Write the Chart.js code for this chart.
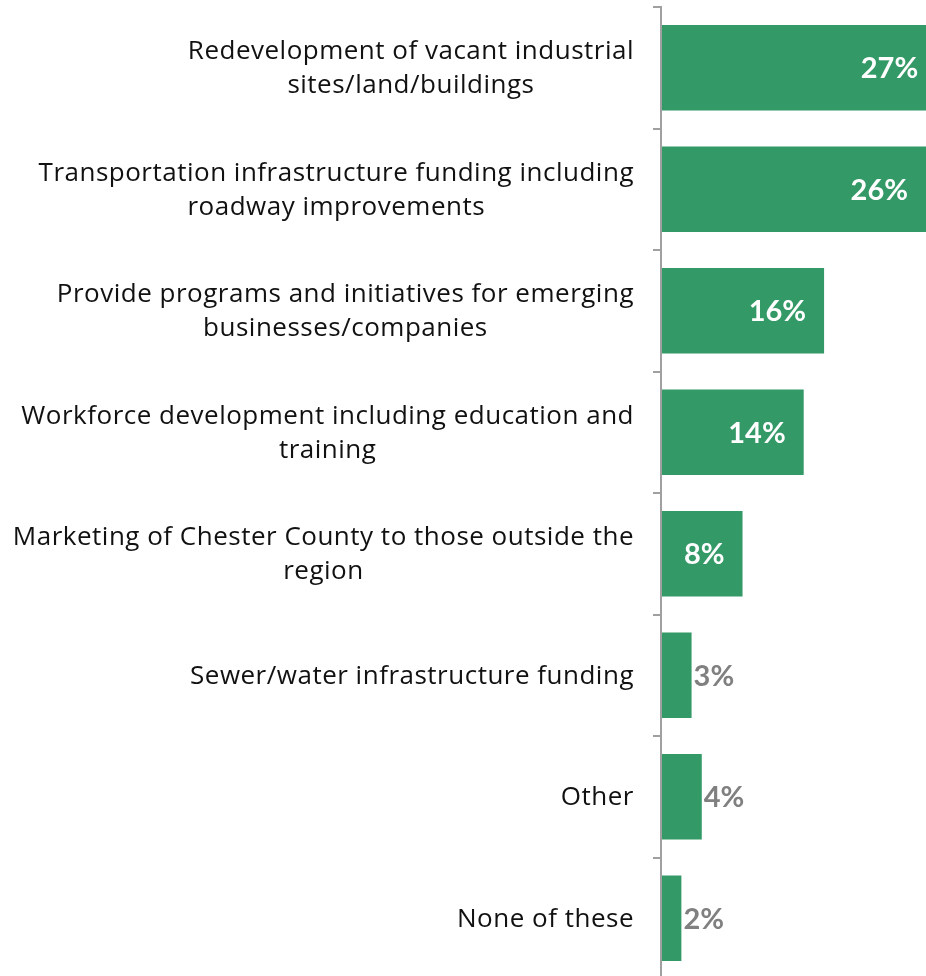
<!DOCTYPE html>
<html>
<head>
<meta charset="utf-8">
<script src="https://cdn.jsdelivr.net/npm/chart.js@4"></script>
<style>
  html, body { margin: 0; padding: 0; background: #fff; overflow: hidden; }
  #wrap { position: relative; width: 926px; height: 979px; }
</style>
</head>
<body>
<div id="wrap"><canvas id="chart"></canvas></div>
<script>
// Priority areas for economic development, share of responses (%)
const categories = [
  ["Redevelopment of vacant industrial", "sites/land/buildings"],
  ["Transportation infrastructure funding including", "roadway improvements"],
  ["Provide programs and initiatives for emerging", "businesses/companies"],
  ["Workforce development including education and", "training"],
  ["Marketing of Chester County to those outside the", "region"],
  ["Sewer/water infrastructure funding"],
  ["Other"],
  ["None of these"]
];
const shares = [27, 26, 16, 14, 8, 3, 4, 2];
const valueSuffix = "%";

const BAR_GREEN = "#339966";
const AXIS_GREY = "#a0a0a0";
const LABEL_GREY = "#808080";
const CAT_FONT = "26px 'Open Sans', Lato, sans-serif";
const VAL_FONT = "bold 29px Lato, 'Open Sans', sans-serif";

// Category names: right-aligned block, lines centred on each other
const categoryLabels = {
  id: "categoryLabels",
  afterDraw(chart) {
    const ctx = chart.ctx;
    const y = chart.scales.y;
    const right = chart.chartArea.left - 27;
    const lineH = 34;
    ctx.save();
    ctx.font = CAT_FONT;
    if ("letterSpacing" in ctx) ctx.letterSpacing = "0.5px";
    ctx.fillStyle = "#111";
    ctx.textAlign = "center";
    ctx.textBaseline = "middle";
    categories.forEach((lines, i) => {
      const cy = y.getPixelForValue(i) + 1;
      const widest = Math.max(...lines.map(l => ctx.measureText(l).width));
      const cx = right - widest / 2;
      const top = cy - (lines.length - 1) * lineH / 2;
      lines.forEach((l, k) => ctx.fillText(l, cx, top + k * lineH));
    });
    ctx.restore();
  }
};

// Value labels: inside the bar end in white, or just outside in grey for short bars
const valueLabels = {
  id: "valueLabels",
  afterDatasetsDraw(chart) {
    const ctx = chart.ctx;
    const meta = chart.getDatasetMeta(0);
    const xs = chart.scales.x;
    ctx.save();
    ctx.font = VAL_FONT;
    ctx.textBaseline = "middle";
    meta.data.forEach((bar, i) => {
      const v = shares[i];
      const end = xs.getPixelForValue(v);
      const txt = v + valueSuffix;
      if (v >= 5) {
        ctx.fillStyle = "#fff";
        ctx.textAlign = "right";
        ctx.fillText(txt, end - 18, bar.y + 1);
      } else {
        ctx.fillStyle = LABEL_GREY;
        ctx.textAlign = "left";
        ctx.fillText(txt, end + 2, bar.y + 1);
      }
    });
    ctx.restore();
  }
};

new Chart(document.getElementById("chart"), {
  type: "bar",
  data: {
    labels: categories.map(c => c.join(" ")),
    datasets: [{
      data: shares,
      backgroundColor: BAR_GREEN,
      borderWidth: 0,
      barPercentage: 0.705,
      categoryPercentage: 1
    }]
  },
  options: {
    indexAxis: "y",
    responsive: true,
    maintainAspectRatio: false,
    animation: false,
    layout: { padding: { top: 7, left: 0, right: 0, bottom: 0 } },
    plugins: { legend: { display: false }, tooltip: { enabled: false } },
    scales: {
      x: {
        display: false,
        min: 0,
        max: 26
      },
      y: {
        position: "left",
        offset: true,
        afterFit(s) { s.width = 661; },
        ticks: { display: false },
        grid: {
          offset: true,
          drawOnChartArea: false,
          drawTicks: true,
          tickLength: 8,
          color: AXIS_GREY,
          lineWidth: 2
        },
        border: { display: true, color: AXIS_GREY, width: 2, z: 1 }
      }
    }
  },
  plugins: [categoryLabels, valueLabels]
});
</script>
</body>
</html>
